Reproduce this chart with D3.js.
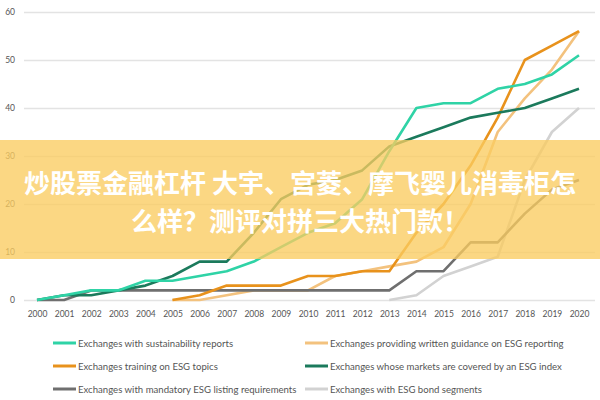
<!DOCTYPE html>
<html lang="en">
    <head>
        <meta charset="utf-8">
        <title></title>
        <script src="https://d3js.org/d3.v7.min.js"></script>
        <style type="text/css">
      body { margin: 0; background: #fff; }
      .grid line { stroke: #e3e3e3; stroke-width: 1.5px; }
      .tick text { font-family: Lato, sans-serif; font-size: 8.5px; fill: #555; }
      .series { fill: none; stroke-width: 2.6px; stroke-linejoin: round; }
      .legend text { font-family: Lato, sans-serif; font-size: 9.6px; fill: #555; }
      #banner text {
        font-family: "Noto Sans CJK SC", sans-serif;
        font-weight: bold;
        font-size: 26px;
        fill: #fff;
      }
        </style>
    </head>
    <body>
    <svg width="600" height="400"></svg>
    <script>
      var years = [2000, 2001, 2002, 2003, 2004, 2005, 2006, 2007, 2008, 2009, 2010,
                   2011, 2012, 2013, 2014, 2015, 2016, 2017, 2018, 2019, 2020]
      var yTicks = [0, 10, 20, 30, 40, 50, 60]

      // each series starts at startYear, one value per year after that
      var sustainability = [0, 1, 2, 2, 4, 4, 5, 6, 8, 11, 14, 16, 21, 31, 40, 41, 41, 44, 45, 47, 51]
      var guidance = [0, 0, 1, 2, 2, 2, 5, 6, 7, 8, 11, 20, 35, 42, 48, 56]
      var training = [0, 1, 3, 3, 3, 5, 5, 6, 6, 14, 20, 28, 38, 50, 53, 56]
      var esgIndex = [0, 1, 1, 2, 3, 5, 8, 8, 14, 21, 24, 25, 27, 32, 34, 36, 38, 39, 40, 42, 44]
      var mandatory = [0, 0, 2, 2, 2, 2, 2, 2, 2, 2, 2, 2, 2, 2, 6, 6, 12, 12, 18, 23, 25]
      var bonds = [0, 1, 5, 7, 9, 25, 35, 40]

      var seriesNames = [
        "Exchanges with sustainability reports",
        "Exchanges providing written guidance on ESG reporting",
        "Exchanges training on ESG topics",
        "Exchanges whose markets are covered by an ESG index",
        "Exchanges with mandatory ESG listing requirements",
        "Exchanges with ESG bond segments"
      ]
      var seriesValues = [sustainability, guidance, training, esgIndex, mandatory, bonds]
      var seriesStart = [2000, 2005, 2005, 2000, 2000, 2013]
      var seriesColors = ["#2fd3a6", "#f3c27e", "#e8921c", "#1b7a5c", "#6f6f6f", "#d2d2d2"]

      var titleLines = ["炒股票金融杠杆 大宇、宫菱、摩飞婴儿消毒柜怎", "么样？测评对拼三大热门款！"]

      var svg = d3.select("svg")

      var xScale = d3.scaleLinear().domain([2000, 2020]).range([37, 579])
      var yScale = d3.scaleLinear().domain([0, 60]).range([300, 12])

      // horizontal grid
      svg.append("g")
          .attr("class", "grid")
          .attr("transform", "translate(24, 0)")
          .call(d3.axisLeft(yScale).tickValues(yTicks).tickSize(-571).tickFormat(""))
          .call(g => g.select(".domain").remove())

      // y labels
      svg.append("g")
          .attr("transform", "translate(15, 0)")
          .call(d3.axisLeft(yScale).tickValues(yTicks).tickSize(0).tickPadding(0))
          .call(g => g.select(".domain").remove())

      // x labels
      svg.append("g")
          .attr("transform", "translate(0, 307)")
          .call(d3.axisBottom(xScale).tickValues(years).tickFormat(d3.format("d")).tickSize(0).tickPadding(4))
          .call(g => g.select(".domain").remove())

      var line = d3.line()
        .x(d => xScale(d.year))
        .y(d => yScale(d.value))

      // draw in back-to-front order
      var drawOrder = [5, 1, 4, 2, 3, 0]
      drawOrder.forEach(function(i) {
        var pts = seriesValues[i].map((v, k) => ({year: seriesStart[i] + k, value: v}))
        svg.append("path")
            .datum(pts)
            .attr("class", "series")
            .attr("stroke", seriesColors[i])
            .attr("d", line)
      })

      // legend, two columns
      var legend = svg.append("g").attr("class", "legend")
      seriesNames.forEach(function(name, i) {
        var col = i % 2, row = Math.floor(i / 2)
        var lx = col == 0 ? 53 : 305
        var ly = 343 + row * 23
        legend.append("line")
            .attr("x1", lx).attr("x2", lx + 23)
            .attr("y1", ly).attr("y2", ly)
            .attr("stroke", seriesColors[i])
            .attr("stroke-width", 3)
        legend.append("text")
            .attr("x", lx + 25).attr("y", ly + 3.5)
            .text(name)
      })

      // overlay banner
      var banner = svg.append("g").attr("id", "banner")
      banner.append("rect")
          .attr("x", 0).attr("y", 140)
          .attr("width", 600).attr("height", 119)
          .attr("fill", "rgb(250, 204, 96)")
          .attr("opacity", 0.78)
      banner.selectAll("text")
          .data(titleLines)
          .join("text")
          .attr("x", 300)
          .attr("y", (d, i) => 193 + i * 38)
          .attr("text-anchor", "middle")
          .text(d => d)
</script>
    </body>
</html>
